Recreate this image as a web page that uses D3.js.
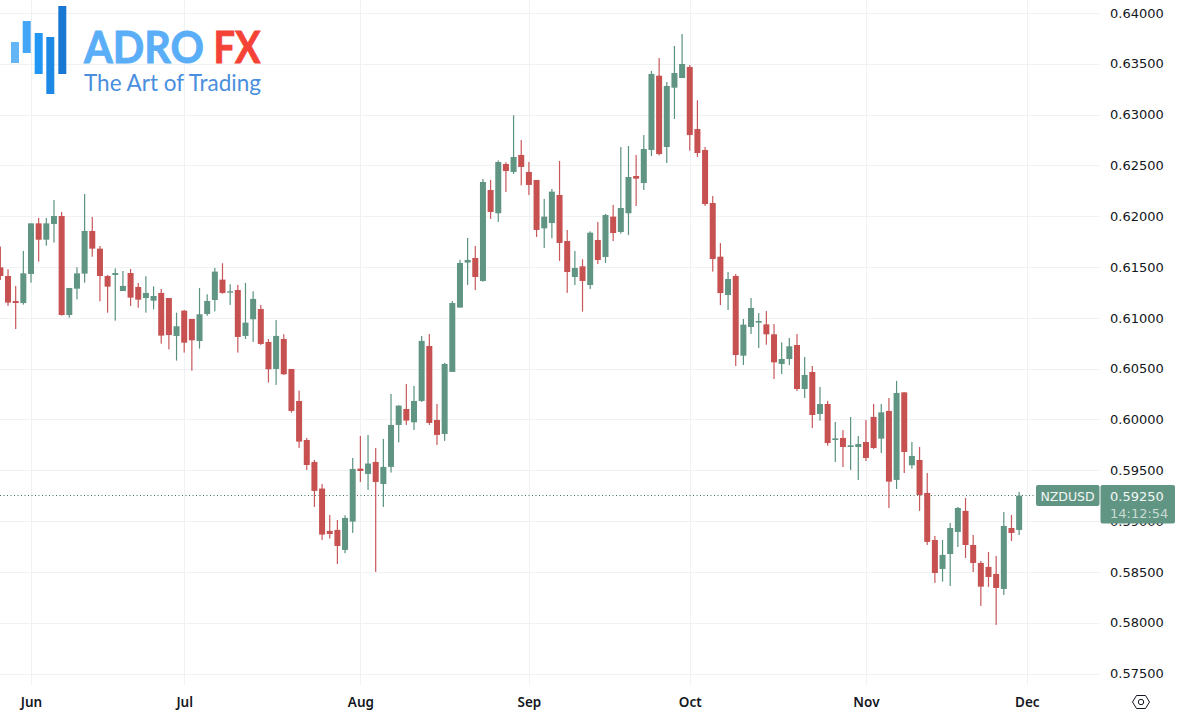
<!DOCTYPE html>
<html>
<head>
<meta charset="utf-8">
<title>NZDUSD</title>
<script src="https://cdn.jsdelivr.net/npm/d3@7"></script>
<style>
  html, body { margin: 0; padding: 0; background: #fff; overflow: hidden; }
  svg { display: block; }
  .axis text { fill: #131722; }
  .axis .domain { display: none; }
  .axis line { display: none; }
</style>
</head>
<body>
<div id="chart"></div>
<script>
// daily candles, 28 May - 29 Nov (weekdays only, one entry per candle)
var opens = [
  0.61497,0.61412,0.61166,0.61146,0.61432,0.61930,0.61769,0.61924,0.62002,0.61028,
  0.61287,0.61435,0.61855,0.61681,0.61412,0.61422,0.61264,0.61441,0.61304,0.61195,
  0.61169,0.61245,0.61195,0.60822,0.61071,0.60989,0.60772,0.61038,0.61176,0.61376,
  0.61248,0.61274,0.60822,0.60986,0.61087,0.60763,0.60497,0.60792,0.60497,0.60182,
  0.59798,0.59582,0.59320,0.58903,0.58913,0.58716,0.58995,0.59516,0.59464,0.59582,
  0.59365,0.59533,0.59946,0.60103,0.59972,0.60182,0.60723,0.59995,0.59857,0.60468,
  0.61101,0.61544,0.61589,0.61363,0.62258,0.62029,0.62514,0.62436,0.62603,0.62436,
  0.62357,0.61881,0.61933,0.62209,0.61756,0.61402,0.61507,0.61323,0.61766,0.61599,
  0.61996,0.61845,0.62029,0.62396,0.62327,0.62652,0.63383,0.62681,0.63265,0.63360,
  0.63469,0.62858,0.62652,0.62130,0.61602,0.61225,0.61412,0.60628,0.60910,0.60953,
  0.60936,0.60838,0.60546,0.60595,0.60733,0.60300,0.60467,0.60054,0.60152,0.59798,
  0.59818,0.59729,0.59729,0.59778,0.60025,0.59811,0.60084,0.59405,0.60267,0.59549,
  0.59601,0.59277,0.58814,0.58529,0.58676,0.58893,0.59100,0.58765,0.58588,0.58549,
  0.58480,0.58332,0.58932,0.58913
];
var highs = [
  0.61701,0.61478,0.61314,0.61658,0.61930,0.61983,0.61983,0.62160,0.62042,0.61294,
  0.61497,0.62219,0.61993,0.61707,0.61422,0.61487,0.61461,0.61481,0.61343,0.61409,
  0.61310,0.61284,0.61087,0.61051,0.61077,0.60831,0.61294,0.61232,0.61491,0.61537,
  0.61330,0.61324,0.61343,0.61261,0.61127,0.60792,0.60979,0.60838,0.60497,0.60284,
  0.59818,0.59602,0.59365,0.59060,0.59011,0.59057,0.59621,0.59838,0.59848,0.59720,
  0.59808,0.60251,0.60140,0.60349,0.60330,0.60822,0.60841,0.60153,0.60556,0.61166,
  0.61570,0.61786,0.61707,0.62367,0.62357,0.62550,0.62531,0.62993,0.62750,0.62534,
  0.62357,0.62170,0.62268,0.62544,0.61865,0.61658,0.61576,0.61851,0.61943,0.62022,
  0.62111,0.62681,0.62691,0.62603,0.62799,0.63429,0.63557,0.63321,0.63675,0.63793,
  0.63488,0.63141,0.62681,0.62199,0.61736,0.61451,0.61431,0.60989,0.61195,0.61048,
  0.61067,0.60939,0.60759,0.60802,0.60841,0.60615,0.60526,0.60320,0.60182,0.59975,
  0.59896,0.60024,0.59837,0.59995,0.60152,0.60152,0.60211,0.60379,0.60267,0.59779,
  0.59729,0.59473,0.58854,0.58814,0.58981,0.59139,0.59227,0.58863,0.58608,0.58696,
  0.58657,0.59090,0.59060,0.59287
];
var lows = [
  0.61373,0.61117,0.60890,0.61130,0.61346,0.61553,0.61710,0.61740,0.61022,0.61002,
  0.61182,0.61346,0.61602,0.61163,0.61051,0.60972,0.61287,0.61117,0.61100,0.61051,
  0.61084,0.60746,0.60690,0.60579,0.60658,0.60480,0.60697,0.61019,0.61064,0.61238,
  0.61127,0.60658,0.60792,0.60763,0.60733,0.60363,0.60340,0.60438,0.60067,0.59720,
  0.59503,0.59139,0.58814,0.58828,0.58578,0.58683,0.58883,0.59385,0.59306,0.58500,
  0.59139,0.59477,0.59775,0.59946,0.59897,0.60172,0.59946,0.59749,0.59789,0.60468,
  0.61101,0.61324,0.61274,0.61356,0.61973,0.61944,0.62239,0.62416,0.62304,0.62209,
  0.61796,0.61687,0.61783,0.61560,0.61245,0.61323,0.61061,0.61284,0.61530,0.61540,
  0.61756,0.61829,0.61815,0.62101,0.62258,0.62593,0.62599,0.62524,0.62957,0.63360,
  0.62645,0.62583,0.62101,0.61455,0.61126,0.61077,0.60526,0.60536,0.60841,0.60703,
  0.60736,0.60398,0.60447,0.60536,0.60280,0.60211,0.59916,0.59988,0.59742,0.59582,
  0.59532,0.59503,0.59404,0.59591,0.59710,0.59670,0.59129,0.59316,0.59473,0.59516,
  0.59100,0.58765,0.58391,0.58404,0.58362,0.58745,0.58637,0.58499,0.58165,0.58352,
  0.57978,0.58273,0.58804,0.58863
];
var closes = [
  0.61412,0.61150,0.61146,0.61438,0.61930,0.61769,0.61930,0.62002,0.61028,0.61294,
  0.61438,0.61855,0.61681,0.61412,0.61307,0.61441,0.61314,0.61199,0.61179,0.61245,
  0.61215,0.60825,0.60831,0.60917,0.60756,0.60779,0.61035,0.61166,0.61455,0.61245,
  0.61261,0.60812,0.60953,0.61186,0.60743,0.60494,0.60822,0.60445,0.60084,0.59782,
  0.59552,0.59297,0.58867,0.58873,0.58755,0.59031,0.59513,0.59493,0.59566,0.59385,
  0.59533,0.59946,0.60136,0.59989,0.60182,0.60773,0.59966,0.59848,0.60546,0.61146,
  0.61540,0.61570,0.61402,0.62337,0.62042,0.62534,0.62445,0.62583,0.62485,0.62308,
  0.61865,0.61996,0.62242,0.61737,0.61451,0.61491,0.61363,0.61838,0.61569,0.62012,
  0.61835,0.62081,0.62386,0.62370,0.62662,0.63400,0.62612,0.63282,0.63409,0.63498,
  0.62799,0.62622,0.62120,0.61579,0.61244,0.61382,0.60634,0.60933,0.61097,0.60969,
  0.60838,0.60562,0.60595,0.60720,0.60300,0.60438,0.60044,0.60152,0.59768,0.59814,
  0.59729,0.59746,0.59759,0.59621,0.59719,0.60070,0.59388,0.60261,0.59680,0.59641,
  0.59257,0.58795,0.58489,0.58667,0.58932,0.59129,0.58765,0.58588,0.58355,0.58450,
  0.58342,0.58952,0.58883,0.59250
];
// weekday position of the first trading day of each month, label and price ticks
var monthIndex = [4, 24, 47, 69, 90, 113, 134];
var monthLabels = ['Jun', 'Jul', 'Aug', 'Sep', 'Oct', 'Nov', 'Dec'];
var priceTicks = [0.575, 0.58, 0.585, 0.59, 0.595, 0.6, 0.605, 0.61, 0.615, 0.62, 0.625, 0.63, 0.635, 0.64];
var symbol = 'NZDUSD';
var lastPrice = 0.5925;
var countdown = '14:12:54';

var W = 1178, H = 720;
var plotRight = 1099, plotBottom = 685;
var green = '#619583', red = '#c65150';
var font = '"DejaVu Sans", sans-serif';

var svg = d3.select('#chart').append('svg')
    .attr('width', W)
    .attr('height', H)
    .attr('viewBox', '0 0 ' + W + ' ' + H);

var x = d3.scaleLinear().domain([4, 134]).range([31, 1026.8]);
var y = d3.scaleLinear().domain([0.575, 0.64]).range([673.5, 13]);

// grid
var grid = svg.append('g').attr('stroke', '#f0f1f3').attr('stroke-width', 1);
grid.selectAll('line.h').data(priceTicks).enter().append('line')
    .attr('class', 'h')
    .attr('x1', 0)
    .attr('x2', plotRight)
    .attr('y1', d => Math.round(y(d)) + 0.5)
    .attr('y2', d => Math.round(y(d)) + 0.5);
grid.selectAll('line.v').data(monthIndex).enter().append('line')
    .attr('class', 'v')
    .attr('x1', d => Math.round(x(d)) + 0.5)
    .attr('x2', d => Math.round(x(d)) + 0.5)
    .attr('y1', 0)
    .attr('y2', plotBottom);

// last price line
svg.append('line')
    .attr('x1', 0)
    .attr('x2', 1036)
    .attr('y1', Math.floor(y(lastPrice)) + 0.5)
    .attr('y2', Math.floor(y(lastPrice)) + 0.5)
    .attr('stroke', '#3d6f5f')
    .attr('stroke-dasharray', '1 2.5');

// candles
var candle = svg.append('g').attr('class', 'candles')
    .selectAll('g')
    .data(opens)
    .enter().append('g');

candle.append('rect')
    .attr('x', (d, i) => x(i) - 0.6)
    .attr('width', 1.2)
    .attr('y', (d, i) => y(highs[i]))
    .attr('height', (d, i) => y(lows[i]) - y(highs[i]))
    .attr('fill', (d, i) => closes[i] >= d ? '#5a9280' : '#c9575a');

candle.append('rect')
    .attr('x', (d, i) => x(i) - 3)
    .attr('width', 6)
    .attr('y', (d, i) => y(Math.max(d, closes[i])))
    .attr('height', (d, i) => Math.max(y(Math.min(d, closes[i])) - y(Math.max(d, closes[i])), 1))
    .attr('fill', (d, i) => closes[i] >= d ? green : red);

// axes
var yAxis = d3.axisRight(y)
    .tickValues(priceTicks)
    .tickSize(0)
    .tickPadding(0)
    .tickFormat(d3.format('.5f'));
svg.append('g')
    .attr('class', 'axis')
    .attr('transform', 'translate(1110,0)')
    .call(yAxis)
    .selectAll('text')
    .attr('font-family', font)
    .attr('font-size', 13);

var xAxis = d3.axisBottom(x)
    .tickValues(monthIndex)
    .tickSize(0)
    .tickPadding(0)
    .tickFormat((d, i) => monthLabels[i]);
svg.append('g')
    .attr('class', 'axis')
    .attr('transform', 'translate(0,697)')
    .call(xAxis)
    .selectAll('text')
    .attr('font-family', '"Noto Sans", sans-serif')
    .attr('font-weight', 600)
    .attr('font-size', 13.5);

// symbol tag + price box
svg.append('rect')
    .attr('x', 1036).attr('y', 485)
    .attr('width', 63.5).attr('height', 21)
    .attr('rx', 2)
    .attr('fill', green);
svg.append('text')
    .attr('x', 1067.5).attr('y', 500.5)
    .attr('text-anchor', 'middle')
    .attr('font-family', font)
    .attr('font-size', 12.5)
    .attr('fill', '#f2f7f5')
    .text(symbol);
svg.append('rect')
    .attr('x', 1100.5).attr('y', 485)
    .attr('width', 74.5).attr('height', 38.5)
    .attr('rx', 2)
    .attr('fill', green);
svg.append('text')
    .attr('x', 1110).attr('y', 500.5)
    .attr('font-family', font)
    .attr('font-size', 13)
    .attr('fill', '#f2f7f5')
    .text(d3.format('.5f')(lastPrice));
svg.append('text')
    .attr('x', 1110).attr('y', 518)
    .attr('font-family', font)
    .attr('font-size', 13)
    .attr('fill', '#c9dcd4')
    .text(countdown);

// settings hexagon
var gear = svg.append('g').attr('transform', 'translate(1141,702)')
    .attr('fill', 'none').attr('stroke', '#131722').attr('stroke-width', 1);
gear.append('path').attr('d', 'M-8.5 0L-4.5 -6.5H4.5L8.5 0L4.5 6.5H-4.5Z');
gear.append('circle').attr('r', 2.7);

// logo
var logo = svg.append('g');
[[11, 42, 8, 21, '#64b5f6'], [22.7, 21, 8, 32, '#42a5f5'], [34.7, 33, 8, 41, '#2196f3'],
 [46.3, 37, 8, 57, '#1e88e5'], [58.3, 6, 8, 68, '#1976d2']].forEach(b => {
    logo.append('rect')
        .attr('x', b[0]).attr('y', b[1])
        .attr('width', b[2]).attr('height', b[3])
        .attr('fill', b[4]);
});
logo.append('text')
    .attr('x', 84).attr('y', 63)
    .attr('font-family', 'Lato, sans-serif')
    .attr('font-weight', 700)
    .attr('font-size', 44)
    .attr('textLength', 120)
    .attr('lengthAdjust', 'spacingAndGlyphs')
    .attr('fill', '#5aaef8')
    .attr('stroke', '#5aaef8')
    .attr('stroke-width', 0.9)
    .text('ADRO');
logo.append('text')
    .attr('x', 213.5).attr('y', 63)
    .attr('font-family', 'Lato, sans-serif')
    .attr('font-weight', 700)
    .attr('font-size', 44)
    .attr('textLength', 47)
    .attr('lengthAdjust', 'spacingAndGlyphs')
    .attr('fill', '#f44336')
    .attr('stroke', '#f44336')
    .attr('stroke-width', 0.9)
    .text('FX');
logo.append('text')
    .attr('x', 84).attr('y', 91)
    .attr('font-family', 'Lato, sans-serif')
    .attr('font-weight', 400)
    .attr('font-size', 23)
    .attr('textLength', 177)
    .attr('lengthAdjust', 'spacingAndGlyphs')
    .attr('fill', '#4a8ede')
    .text('The Art of Trading');
</script>
</body>
</html>
